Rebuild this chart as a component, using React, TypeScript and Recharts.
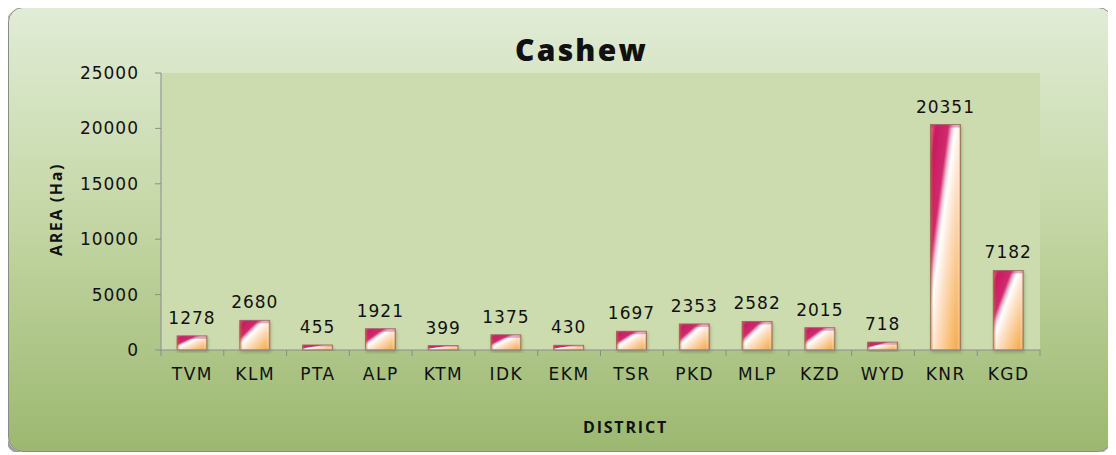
import { BarChart, Bar, XAxis, YAxis, CartesianGrid, LabelList } from 'recharts';

const districts = ['TVM', 'KLM', 'PTA', 'ALP', 'KTM', 'IDK', 'EKM', 'TSR', 'PKD', 'MLP', 'KZD', 'WYD', 'KNR', 'KGD'];
const areaHa = [1278, 2680, 455, 1921, 399, 1375, 430, 1697, 2353, 2582, 2015, 718, 20351, 7182];
const yTicks = [0, 5000, 10000, 15000, 20000, 25000];

const data = districts.map((d, i) => ({ district: d, area: areaHa[i] }));

const tickFont = { fontFamily: '"DejaVu Sans", Verdana, sans-serif', fontSize: 17, letterSpacing: 1 };
const axisGray = '#8c8c8c';

function BevelBar(props: any) {
  const { x, y, width, height } = props;
  if (!height || height <= 0) return null;
  const top = Math.min(3, height / 3);
  return (
    <g filter="url(#barShadow)">
      <rect x={x} y={y} width={width} height={height} fill="url(#cashewFill)" />
      <rect x={x} y={y} width={width} height={height} fill="url(#bevelSides)" />
      <rect x={x} y={y} width={width} height={top} fill="#c0306e" opacity={0.4} />
      <rect x={x} y={y} width={width} height={height} fill="none" stroke="#9c6b5e" strokeWidth={0.8} />
    </g>
  );
}

function DistrictTick(props: any) {
  const { x, y, payload, index, width, visibleTicksCount } = props;
  const band = width && visibleTicksCount ? width / visibleTicksCount : 62.8;
  const last = index === visibleTicksCount - 1;
  return (
    <g>
      <line x1={x - band / 2} y1={y} x2={x - band / 2} y2={y + 6} stroke={axisGray} />
      {last && <line x1={x + band / 2} y1={y} x2={x + band / 2} y2={y + 6} stroke={axisGray} />}
      <text x={x} y={y + 18} dy="0.71em" textAnchor="middle" fill="#111" style={{ ...tickFont, letterSpacing: 1.5 }}>
        {payload.value}
      </text>
    </g>
  );
}

export default function App() {
  return (
    <div
      style={{
        position: 'relative',
        width: 1105,
        height: 445,
        marginTop: -1,
        boxSizing: 'border-box',
        border: '1px solid #8a8a8a',
        borderRadius: 15,
        boxShadow: '-2px 2px 1px #9a9a9a',
        background: 'linear-gradient(to bottom, #e1ecd6 0%, #c6d8a8 45%, #9cb870 100%)',
        overflow: 'hidden',
      }}
    >
      <div
        style={{
          position: 'absolute',
          top: 21,
          left: 0,
          width: 1103,
          paddingLeft: 42,
          boxSizing: 'border-box',
          textAlign: 'center',
          fontFamily: '"Open Sans", sans-serif',
          fontWeight: 800,
          fontSize: 30,
          letterSpacing: 2.2,
          color: '#111',
        }}
      >
        Cashew
      </div>
      <BarChart
        width={1103}
        height={443}
        data={data}
        margin={{ top: 65, right: 72, left: 30, bottom: 71 }}
      >
        <defs>
          <linearGradient id="cashewFill" x1="0" y1="0" x2="1" y2="1">
            <stop offset="0%" stopColor="#ea6aa0" />
            <stop offset="10%" stopColor="#c81a62" />
            <stop offset="30%" stopColor="#d02a6e" />
            <stop offset="37%" stopColor="#f6c6da" />
            <stop offset="42%" stopColor="#ffffff" />
            <stop offset="56%" stopColor="#fde2cc" />
            <stop offset="78%" stopColor="#f9c27e" />
            <stop offset="100%" stopColor="#f2a43e" />
          </linearGradient>
          <linearGradient id="bevelSides" x1="0" y1="0" x2="1" y2="0">
            <stop offset="0%" stopColor="#b8702c" stopOpacity={0.75} />
            <stop offset="10%" stopColor="#b8702c" stopOpacity={0} />
            <stop offset="88%" stopColor="#ffffff" stopOpacity={0} />
            <stop offset="93%" stopColor="#ffffff" stopOpacity={0.25} />
            <stop offset="100%" stopColor="#a8682c" stopOpacity={0.65} />
          </linearGradient>
          <filter id="barShadow" x="-20%" y="-5%" width="150%" height="120%">
            <feDropShadow dx="1" dy="2" stdDeviation="1.5" floodColor="#4d5f2a" floodOpacity={0.35} />
          </filter>
        </defs>
        <CartesianGrid fill="#cddcae" stroke="none" horizontal={false} vertical={false} />
        <XAxis
          dataKey="district"
          height={30}
          tickLine={false}
          tickSize={0}
          tickMargin={0}
          axisLine={{ stroke: axisGray }}
          interval={0}
          tick={<DistrictTick />}
          label={{
            content: ({ viewBox }: any) => (
              <text
                x={viewBox.x + viewBox.width / 2 + 25}
                y={viewBox.y + viewBox.height + 53}
                textAnchor="middle"
                fill="#111"
                style={{ fontFamily: '"Open Sans", sans-serif', fontWeight: 700, fontSize: 16, letterSpacing: 1.8 }}
              >
                DISTRICT
              </text>
            ),
          }}
        />
        <YAxis
          width={122}
          domain={[0, 25000]}
          ticks={yTicks}
          interval={0}
          tickSize={6}
          tickMargin={16}
          tickLine={{ stroke: axisGray }}
          axisLine={{ stroke: axisGray }}
          tick={{ ...tickFont, fill: '#111' }}
          label={{
            content: ({ viewBox }: any) => {
              const cx = viewBox.x + 17;
              const cy = viewBox.y + viewBox.height / 2 - 2;
              return (
                <text
                  x={cx}
                  y={cy}
                  transform={`rotate(-90, ${cx}, ${cy})`}
                  textAnchor="middle"
                  dominantBaseline="central"
                  fill="#111"
                  style={{ fontFamily: '"Open Sans", sans-serif', fontWeight: 700, fontSize: 16, letterSpacing: 1.6 }}
                >
                  AREA (Ha)
                </text>
              );
            },
          }}
        />
        <Bar dataKey="area" barSize={30} shape={<BevelBar />} isAnimationActive={false}>
          <LabelList dataKey="area" position="top" offset={12} fill="#111" style={tickFont} />
        </Bar>
      </BarChart>
    </div>
  );
}
